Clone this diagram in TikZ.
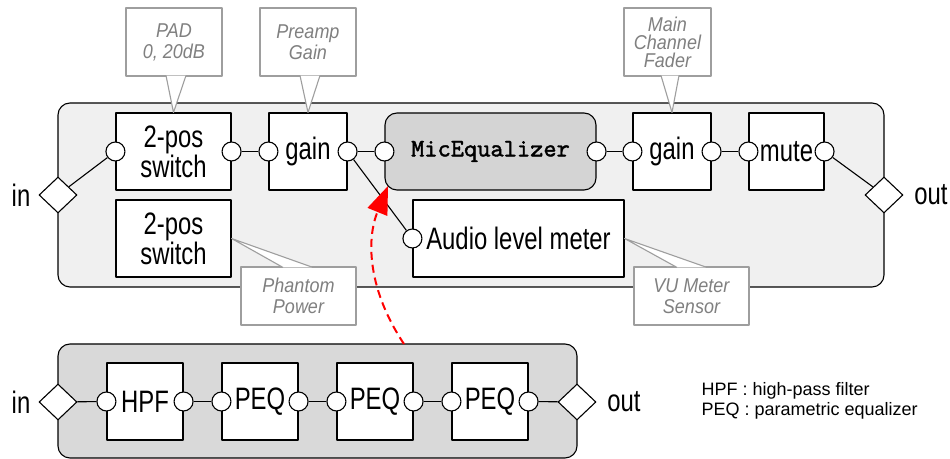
\documentclass[tikz,border=0pt]{standalone}
\usepackage{fontspec}
\setmainfont{Liberation Sans}[FakeStretch=0.77]
\newfontfamily\notefont{Liberation Sans}[FakeStretch=0.9]
\newfontfamily\legendfont{Liberation Sans}
\newfontfamily\micfont{lmmono10-regular.otf}[FakeBold=1.6]
\usetikzlibrary{shapes.geometric,arrows.meta,calc}

\tikzset{
  blk/.style={draw, fill=white, minimum height=38.5pt, inner sep=0pt, align=center, font=\fontsize{15.5}{15}\selectfont},
  port/.style={circle, draw, fill=white, minimum size=9.5pt, inner sep=0pt},
  pinbox/.style={diamond, draw, fill=white, minimum width=19pt, minimum height=18pt, inner sep=0pt},
  group/.style={draw, rounded corners=6pt, inner sep=0pt},
  note/.style={draw=black!38, fill=white, inner sep=0pt, align=center, text=black!50, font=\notefont\fontsize{10}{10.5}\selectfont\itshape},
  notetip/.style={draw=black!38, fill=white},
  lbl/.style={font=\fontsize{15.5}{15}\selectfont, inner sep=0pt},
}

\begin{document}
\begin{tikzpicture}[x=0.5pt, y=-0.5pt, line width=0.55pt, line join=round]
  \useasboundingbox (0,0) rectangle (950,459);

  % channel strip
  \node[group, fill=black!6, minimum width=413pt, minimum height=92pt] (chan) at (471,195) {};
  \node[pinbox] (chin) at (58,195) {};
  \node[pinbox] (chout) at (884,195) {};
  \node[lbl] (chinlbl) at (21,195) {in};
  \node[lbl] (choutlbl) at (931,195) {out};

  \node[blk, minimum width=57.5pt] (sw1) at (173.5,151.5) {2-pos\\switch};
  \node[blk, minimum width=39pt] (g1) at (308,151.5) {gain};
  \node[blk, minimum width=105.5pt, rounded corners=6pt, fill=black!17,
        font=\micfont\fontsize{12.6}{13}\selectfont] (mic) at (490.5,151.5) {MicEqualizer};
  \node[blk, minimum width=39pt] (g2) at (672,151.5) {gain};
  \node[blk, minimum width=37.5pt] (mute) at (786.5,151.5) {mute};
  \node[blk, minimum width=57.5pt] (sw2) at (173.5,238.5) {2-pos\\switch};
  \node[blk, minimum width=105.5pt] (meter) at (518.5,238.5) {Audio level meter};

  \node[port] (sw1i) at (sw1.west) {};
  \node[port] (sw1o) at (sw1.east) {};
  \node[port] (g1i) at (g1.west) {};
  \node[port] (g1o) at (g1.east) {};
  \node[port] (mici) at (mic.west) {};
  \node[port] (mico) at (mic.east) {};
  \node[port] (g2i) at (g2.west) {};
  \node[port] (g2o) at (g2.east) {};
  \node[port] (mutei) at (mute.west) {};
  \node[port] (muteo) at (mute.east) {};
  \node[port] (meteri) at (meter.west) {};

  \draw (chin) -- (sw1i);
  \draw (sw1o) -- (g1i);
  \draw (g1o) -- (mici);
  \draw (g1o) -- (meteri);
  \draw (mico) -- (g2i);
  \draw (g2o) -- (mutei);
  \draw (muteo) -- (chout);

  % callouts
  \node[note, minimum width=48pt, minimum height=34pt] (padnote) at (174,42) {PAD\\0, 20dB};
  \filldraw[notetip] ($(padnote.south)+(-8,-1)$) -- (sw1.north) -- ($(padnote.south)+(12,-1)$);
  \node[note, minimum width=48pt, minimum height=34pt] (prenote) at (308,42) {Preamp\\Gain};
  \filldraw[notetip] ($(prenote.south)+(-8,-1)$) -- (g1.north) -- ($(prenote.south)+(12,-1)$);
  \node[note, minimum width=43.5pt, minimum height=34pt, font=\notefont\fontsize{10}{9}\selectfont\itshape] (fadnote) at (667.5,42) {Main\\Channel\\Fader};
  \filldraw[notetip] ($(fadnote.south)+(-6.5,-1)$) -- (g2.north) -- ($(fadnote.south)+(11.5,-1)$);
  \node[note, minimum width=57.5pt, minimum height=29pt] (phnote) at (298.5,296) {Phantom\\Power};
  \filldraw[notetip] ($(phnote.north)+(-15.5,1)$) -- (sw2.east) -- ($(phnote.north)+(14.5,1)$);
  \node[note, minimum width=57.5pt, minimum height=29pt] (vunote) at (691.5,296) {VU Meter\\Sensor};
  \filldraw[notetip] ($(vunote.north)+(-14.5,1)$) -- (meter.east) -- ($(vunote.north)+(15.5,1)$);

  % equalizer
  \node[group, fill=black!15, minimum width=259.5pt, minimum height=57pt] (eq) at (317.5,401) {};
  \node[pinbox] (eqin) at (58,402) {};
  \node[pinbox] (eqout) at (577,402) {};
  \node[lbl] (eqinlbl) at (21,402) {in};
  \node[lbl] (eqoutlbl) at (624,402) {out};

  \node[blk, minimum width=38pt] (hpf) at (145,401.5) {HPF};
  \node[blk, minimum width=38pt] (peqa) at (260,401.5) {PEQ};
  \node[blk, minimum width=38pt] (peqb) at (375,401.5) {PEQ};
  \node[blk, minimum width=38pt] (peqc) at (490,401.5) {PEQ};

  \node[port] (hpfi) at (hpf.west) {};
  \node[port] (hpfo) at (hpf.east) {};
  \node[port] (peqai) at (peqa.west) {};
  \node[port] (peqao) at (peqa.east) {};
  \node[port] (peqbi) at (peqb.west) {};
  \node[port] (peqbo) at (peqb.east) {};
  \node[port] (peqci) at (peqc.west) {};
  \node[port] (peqco) at (peqc.east) {};

  \draw (eqin) -- (hpfi);
  \draw (hpfo) -- (peqai);
  \draw (peqao) -- (peqbi);
  \draw (peqbo) -- (peqci);
  \draw (peqco) -- (eqout);

  \node[anchor=west, align=left, inner sep=0pt, font=\legendfont\fontsize{9}{10}\selectfont] (legend) at (701,401)
    {HPF : high-pass filter\\PEQ : parametric equalizer};

  % link
  \coordinate (eqsrc) at (404,344);
  \coordinate (eqdst) at (388,186);
  \draw[red, dashed, line width=1pt, dash pattern=on 4pt off 2.5pt,
        -{Triangle[length=14pt, width=10.5pt]}] (eqsrc) .. controls (368,290) and (366,240) .. (eqdst);
\end{tikzpicture}
\end{document}
